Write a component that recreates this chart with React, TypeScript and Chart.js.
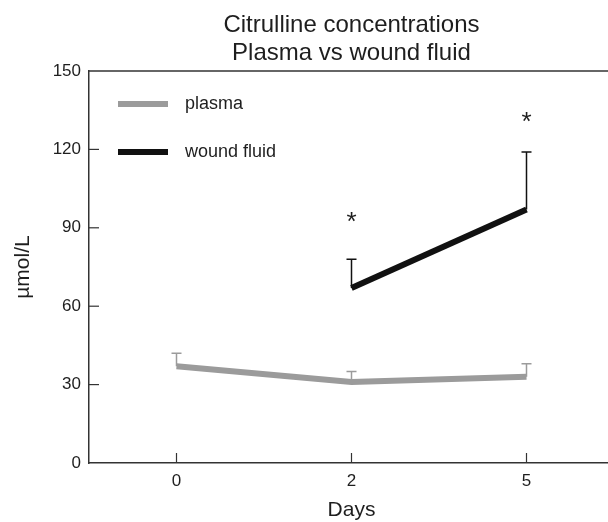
import React, { useEffect, useRef } from 'react';
import { Chart, registerables } from 'chart.js';

Chart.register(...registerables);

const days = ['0', '2', '5'];
const plasma = [37, 31, 33];
const plasmaErrTop = [42, 35, 38];
const woundFluid = [null, 67, 97];
const woundErrTop = [null, 78, 119];
const woundSignificance = [null, 92, 130];
const seriesNames = ['plasma', 'wound fluid'];
const titleLines = ['Citrulline concentrations', 'Plasma vs wound fluid'];
const xTitle = 'Days';
const yTitle = 'µmol/L';
const yMin = 0;
const yMax = 150;
const yStep = 30;

const FONT = '"Liberation Sans", Arial, Helvetica, sans-serif';
const TEXT_COLOR = '#1e1e1e';
const PLASMA_COLOR = '#9b9b9b';
const WOUND_COLOR = '#111111';
const AXIS_COLOR = '#333333';

const overlayPlugin = {
  id: 'overlay',
  beforeDatasetsDraw(chart: any) {
    const { ctx, scales } = chart;
    const x = scales.x;
    const y = scales.y;
    const drawErr = (vals: (number | null)[], tops: (number | null)[], color: string) => {
      ctx.save();
      ctx.strokeStyle = color;
      ctx.lineWidth = 1.5;
      vals.forEach((v, i) => {
        const t = tops[i];
        if (v == null || t == null) return;
        const px = x.getPixelForValue(i);
        const py0 = y.getPixelForValue(v);
        const py1 = y.getPixelForValue(t);
        ctx.beginPath();
        ctx.moveTo(px, py0);
        ctx.lineTo(px, py1);
        ctx.moveTo(px - 5, py1);
        ctx.lineTo(px + 5, py1);
        ctx.stroke();
      });
      ctx.restore();
    };
    drawErr(plasma, plasmaErrTop, PLASMA_COLOR);
    drawErr(woundFluid, woundErrTop, WOUND_COLOR);
  },
  afterDraw(chart: any) {
    const { ctx, chartArea, scales } = chart;
    const x = scales.x;
    const y = scales.y;
    ctx.save();
    // title centred over the plot area
    ctx.fillStyle = TEXT_COLOR;
    ctx.font = `24px ${FONT}`;
    ctx.textAlign = 'center';
    ctx.textBaseline = 'middle';
    const cx = (chartArea.left + chartArea.right) / 2;
    titleLines.forEach((line, i) => {
      ctx.fillText(line, cx, 25 + i * 28);
    });
    // top border
    ctx.strokeStyle = AXIS_COLOR;
    ctx.lineWidth = 1.5;
    ctx.beginPath();
    ctx.moveTo(chartArea.left, chartArea.top);
    ctx.lineTo(chartArea.right, chartArea.top);
    ctx.stroke();
    // inward ticks
    ctx.lineWidth = 1.2;
    days.forEach((_, i) => {
      const px = x.getPixelForValue(i);
      ctx.beginPath();
      ctx.moveTo(px, chartArea.bottom);
      ctx.lineTo(px, chartArea.bottom - 10);
      ctx.stroke();
    });
    for (let v = yMin + yStep; v < yMax; v += yStep) {
      const py = y.getPixelForValue(v);
      ctx.beginPath();
      ctx.moveTo(chartArea.left, py);
      ctx.lineTo(chartArea.left + 10, py);
      ctx.stroke();
    }
    // legend
    const items = [
      { name: seriesNames[0], color: PLASMA_COLOR, dy: 33 },
      { name: seriesNames[1], color: WOUND_COLOR, dy: 81 },
    ];
    ctx.font = `18px ${FONT}`;
    ctx.textBaseline = 'middle';
    ctx.textAlign = 'left';
    items.forEach((it) => {
      const ly = chartArea.top + it.dy;
      ctx.strokeStyle = it.color;
      ctx.lineWidth = 6;
      ctx.lineCap = 'butt';
      ctx.beginPath();
      ctx.moveTo(chartArea.left + 29, ly);
      ctx.lineTo(chartArea.left + 79, ly);
      ctx.stroke();
      ctx.fillStyle = TEXT_COLOR;
      ctx.fillText(it.name, chartArea.left + 96, ly);
    });
    // significance asterisks
    ctx.font = `26px ${FONT}`;
    ctx.textAlign = 'center';
    ctx.fillStyle = TEXT_COLOR;
    woundSignificance.forEach((v, i) => {
      if (v == null) return;
      ctx.fillText('*', x.getPixelForValue(i), y.getPixelForValue(v));
    });
    ctx.restore();
  },
};

export default function App() {
  const canvasRef = useRef<HTMLCanvasElement | null>(null);

  useEffect(() => {
    const canvas = canvasRef.current;
    if (!canvas) return;
    const chart = new Chart(canvas, {
      type: 'line',
      data: {
        labels: days,
        datasets: [
          {
            label: seriesNames[0],
            data: plasma,
            borderColor: PLASMA_COLOR,
            backgroundColor: PLASMA_COLOR,
            borderWidth: 6,
            pointRadius: 0,
            borderCapStyle: 'butt',
            tension: 0,
          },
          {
            label: seriesNames[1],
            data: woundFluid,
            borderColor: WOUND_COLOR,
            backgroundColor: WOUND_COLOR,
            borderWidth: 6,
            pointRadius: 0,
            borderCapStyle: 'butt',
            tension: 0,
          },
        ],
      },
      options: {
        responsive: false,
        animation: false,
        devicePixelRatio: 1,
        layout: { padding: { top: 71, left: 0, right: 0, bottom: 0 } },
        plugins: {
          legend: { display: false },
          tooltip: { enabled: false },
          title: { display: false },
        },
        scales: {
          x: {
            type: 'category',
            offset: true,
            grid: { display: false, drawTicks: false },
            border: { display: true, color: AXIS_COLOR, width: 1.5 },
            ticks: { color: TEXT_COLOR, padding: 8, font: { family: FONT, size: 17 } },
            title: {
              display: true,
              text: xTitle,
              color: TEXT_COLOR,
              font: { family: FONT, size: 21, lineHeight: 1 },
              padding: { top: 0, bottom: 1 },
            },
            afterFit: (s: any) => { s.height = 59; },
          },
          y: {
            min: yMin,
            max: yMax,
            grid: { display: false, drawTicks: false },
            border: { display: true, color: AXIS_COLOR, width: 1.5 },
            ticks: { stepSize: yStep, color: TEXT_COLOR, padding: 8, font: { family: FONT, size: 17 } },
            title: {
              display: true,
              text: yTitle,
              color: TEXT_COLOR,
              font: { family: FONT, size: 21, lineHeight: 1 },
              padding: { top: 13, bottom: 0 },
            },
            afterFit: (s: any) => { s.width = 89; },
          },
        },
      },
      plugins: [overlayPlugin],
    } as any);
    return () => chart.destroy();
  }, []);

  return (
    <div style={{ position: 'absolute', left: 0, top: 0, width: 608, height: 522, overflow: 'hidden', background: '#fff' }}>
      <canvas ref={canvasRef} width={614} height={522} style={{ display: 'block' }} />
    </div>
  );
}
